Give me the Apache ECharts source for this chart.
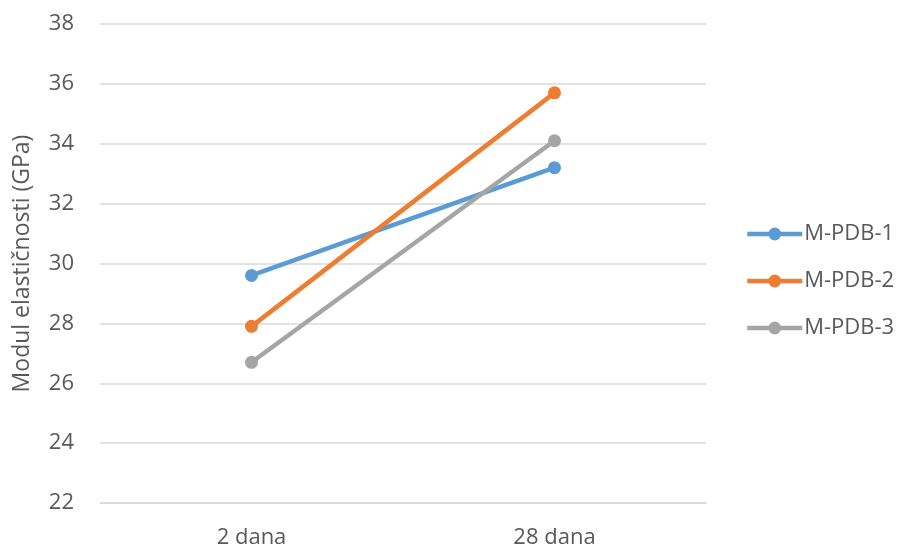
<!DOCTYPE html>
<html>
<head>
<meta charset="utf-8">
<script src="https://cdn.jsdelivr.net/npm/echarts@6/dist/echarts.min.js"></script>
<style>
  html, body { margin: 0; padding: 0; background: #fff; }
  #chart { width: 906px; height: 550px; }
</style>
</head>
<body>
<div id="chart"></div>
<script>
// values
const categories = ['2 dana', '28 dana']
const seriesNames = ['M-PDB-1', 'M-PDB-2', 'M-PDB-3']
const mpdb1 = [29.6, 33.2]
const mpdb2 = [27.9, 35.7]
const mpdb3 = [26.7, 34.1]
const colors = ['#5b9bd5', '#ed7d31', '#a5a5a5']

const font = 'Open Sans, Noto Sans, sans-serif'
const textColor = '#595959'

function makeLine(name, data, color) {
  return {
    name: name,
    type: 'line',
    data: data,
    symbol: 'circle',
    symbolSize: 13,
    lineStyle: { width: 4.5, color: color },
    itemStyle: { color: color },
    emphasis: { disabled: true }
  }
}

const chart = echarts.init(document.getElementById('chart'))
chart.setOption({
  animation: false,
  color: colors,
  grid: { left: 100, right: 200, top: 24, bottom: 47, outerBoundsMode: 'none', containLabel: false },
  legend: {
    orient: 'vertical',
    left: 745,
    top: 223,
    padding: 0,
    itemWidth: 55,
    itemHeight: 16,
    itemGap: 25,
    lineStyle: { width: 4.5 },
    itemStyle: { borderWidth: 0 },
    textStyle: { fontFamily: font, fontSize: 22, color: textColor, padding: [0, 0, 0, -3] },
    data: seriesNames
  },
  xAxis: {
    type: 'category',
    data: categories,
    axisLine: { lineStyle: { color: '#d9d9d9', width: 1.5 } },
    axisTick: { show: false },
    axisLabel: { fontFamily: font, fontSize: 22, color: textColor, margin: 24 }
  },
  yAxis: {
    type: 'value',
    min: 22,
    max: 38,
    interval: 2,
    name: 'Modul elastičnosti (GPa)',
    nameLocation: 'middle',
    nameGap: 66,
    nameTextStyle: { fontFamily: font, fontSize: 23, color: textColor },
    axisLine: { show: false },
    axisTick: { show: false },
    axisLabel: { fontFamily: font, fontSize: 22, color: textColor, margin: 26 },
    splitLine: { lineStyle: { color: '#d9d9d9', width: 1.5 } }
  },
  series: [
    makeLine(seriesNames[0], mpdb1, colors[0]),
    makeLine(seriesNames[1], mpdb2, colors[1]),
    makeLine(seriesNames[2], mpdb3, colors[2])
  ]
})
</script>
</body>
</html>
